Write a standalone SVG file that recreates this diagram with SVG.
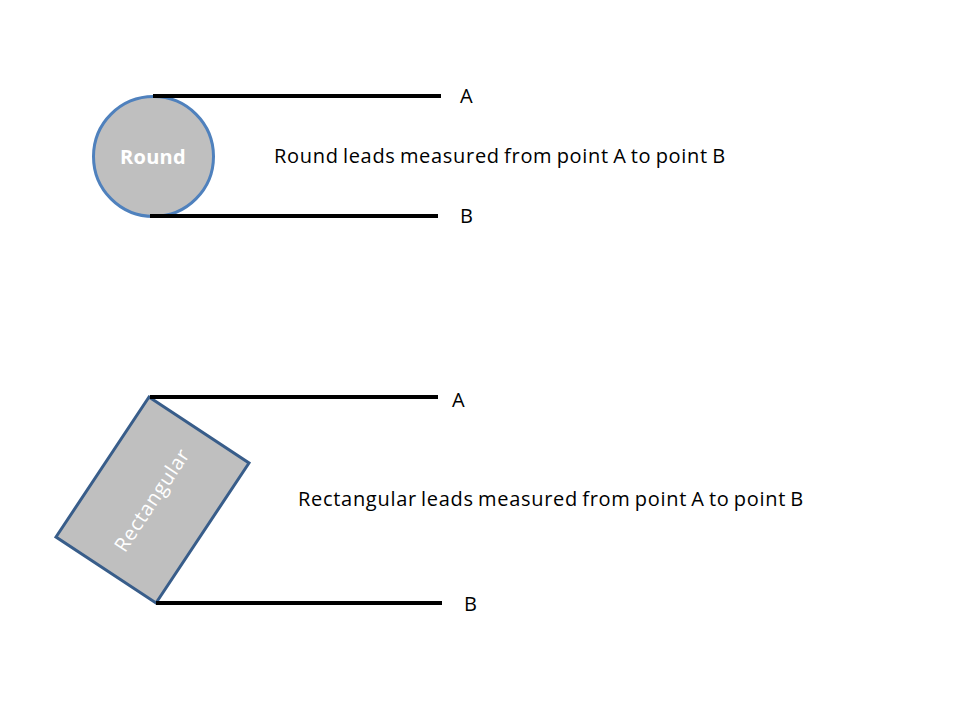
<svg xmlns="http://www.w3.org/2000/svg" width="960" height="720" viewBox="0 0 960 720">
<style>
text{font-family:"Open Sans","Liberation Sans",sans-serif;font-size:20px;fill:#000}
.lead{stroke:#000;stroke-width:4;fill:none}
.in{fill:#fff;text-anchor:middle}
.cap{letter-spacing:.7px;word-spacing:-1.6px}
</style>
<rect width="960" height="720" fill="#fff"/>
<g id="round-node">
<circle cx="153.500" cy="156.500" r="60" fill="#bfbfbf" stroke="#4f81bd" stroke-width="3"/>
<text class="in" x="153" y="163.500" style="font-weight:700;letter-spacing:.3px">Round</text>
</g>
<g id="rect-node">
<polygon points="149,397 249,463 156,603 56,537" fill="#bfbfbf" stroke="#385d8a" stroke-width="3"/>
<text class="in" transform="translate(152 500) rotate(-56.500)" y="7" style="letter-spacing:.7px">Rectangular</text>
</g>
<g id="connectors">
<line class="lead" x1="153" y1="96" x2="441" y2="96"/>
<line class="lead" x1="150" y1="216" x2="438" y2="216"/>
<line class="lead" x1="150" y1="397" x2="438" y2="397"/>
<line class="lead" x1="156" y1="603" x2="442" y2="603"/>
</g>
<g id="labels">
<text x="460" y="103">A</text>
<text x="460" y="223">B</text>
<text x="452" y="407">A</text>
<text x="464" y="611">B</text>
<text class="cap" x="274" y="163">Round leads measured from point A to point B</text>
<text class="cap" x="298" y="506">Rectangular leads measured from point A to point B</text>
</g>
</svg>
